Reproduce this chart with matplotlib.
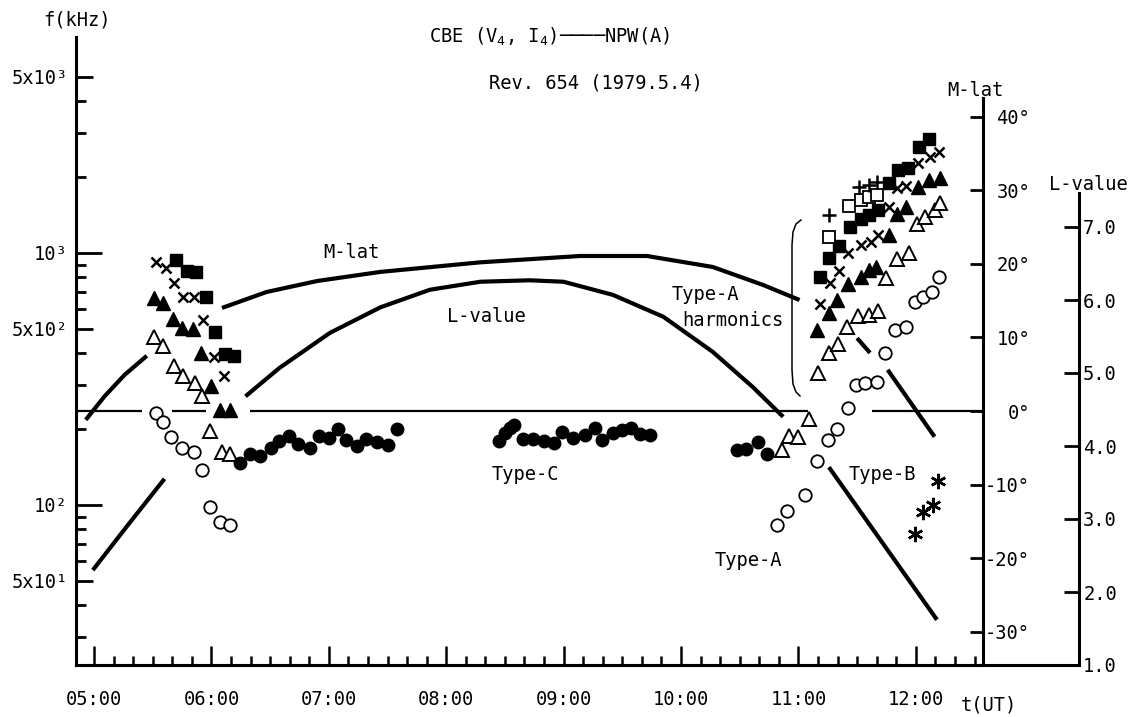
import numpy as np
import matplotlib
matplotlib.use('Agg')
import matplotlib.pyplot as plt
from matplotlib.ticker import FixedLocator, NullFormatter

plt.rcParams['font.family'] = ['DejaVu Sans Mono', 'DejaVu Sans']
plt.rcParams['mathtext.fontset'] = 'custom'
plt.rcParams['mathtext.rm'] = 'DejaVu Sans Mono'
plt.rcParams['mathtext.it'] = 'DejaVu Sans Mono'

nan = np.nan
FS = 13.5

# ---- data: time in hours UT, frequency in kHz ----
circ_open_t = [5.53, 5.59, 5.66, 5.75, 5.85, 5.92, 5.99, 6.07, 6.16,
               10.82, 10.90, 11.06, 11.16, 11.25, 11.33, 11.42, 11.49, 11.57, 11.67,
               11.74, 11.82, 11.92, 11.99, 12.06, 12.14, 12.20]
circ_open_f = [232, 214, 186, 168, 163, 138, 98, 86, 83,
               83, 95, 110, 149, 181, 200, 242, 299, 304, 309,
               402, 495, 507, 641, 671, 702, 805]

tri_open_t = [5.51, 5.59, 5.68, 5.76, 5.86, 5.92, 5.99, 6.09, 6.16,
              10.86, 10.92, 11.00, 11.09, 11.17, 11.26, 11.34, 11.41, 11.51, 11.60,
              11.68, 11.75, 11.84, 11.94, 12.01, 12.08, 12.16, 12.21]
tri_open_f = [463, 427, 356, 325, 306, 271, 196, 163, 160,
              165, 188, 186, 219, 333, 400, 436, 507, 562, 568,
              590, 794, 945, 1003, 1304, 1386, 1482, 1585]

tri_fill_t = [5.51, 5.59, 5.67, 5.75, 5.84, 5.91, 6.00, 6.07, 6.16,
              11.16, 11.26, 11.33, 11.42, 11.53, 11.60, 11.66, 11.77, 11.84, 11.92,
              12.02, 12.11, 12.21]
tri_fill_f = [661, 631, 545, 503, 498, 400, 297, 238, 238,
              495, 577, 651, 753, 801, 857, 883, 1179, 1428, 1518,
              1822, 1949, 1979]

cross_t = [5.53, 5.61, 5.68, 5.76, 5.85, 5.93, 6.02, 6.11,
           11.18, 11.27, 11.35, 11.42, 11.53, 11.62, 11.68, 11.77, 11.84, 11.92,
           12.02, 12.12, 12.20]
cross_f = [924, 869, 758, 671, 671, 542, 387, 325,
           628, 763, 851, 1003, 1076, 1109, 1179, 1518, 1806, 1845,
           2282, 2397, 2524]

sq_fill_t = [5.70, 5.79, 5.87, 5.95, 6.03, 6.12, 6.19,
             11.18, 11.26, 11.35, 11.44, 11.53, 11.60, 11.68, 11.77, 11.85, 11.93,
             12.03, 12.11]
sq_fill_f = [938, 851, 844, 671, 488, 397, 390,
             805, 952, 1066, 1272, 1361, 1415, 1482, 1892, 2135, 2168,
             2626, 2825]

sq_open_t = [11.26, 11.43, 11.53, 11.60, 11.67]
sq_open_f = [1161, 1537, 1623, 1664, 1699]

plus_t = [11.26, 11.52, 11.60, 11.67]
plus_f = [1415, 1822, 1864, 1919]

# Type-C (filled circles)
dot_t = [6.24, 6.33, 6.41, 6.51, 6.58, 6.66, 6.74, 6.84, 6.92, 7.00, 7.08, 7.15,
         7.24, 7.32, 7.41, 7.50, 7.58,
         8.45, 8.50, 8.54, 8.58, 8.65, 8.74, 8.83, 8.92, 8.99, 9.08, 9.18, 9.27,
         9.33, 9.42, 9.50, 9.57, 9.65, 9.74,
         10.48, 10.55, 10.66, 10.73]
dot_f = [147, 159, 156, 168, 180, 187, 175, 168, 187, 184, 200, 181,
         171, 182, 178, 173, 200,
         179, 193, 202, 208, 182, 182, 179, 177, 195, 184, 190, 202,
         181, 193, 198, 202, 191, 190,
         165, 167, 178, 159]

# Type-B (asterisks)
ast_t = [11.99, 12.06, 12.15, 12.19]
ast_f = [77, 94, 100, 125]

# M-lat curve (degrees), broken where it crosses the data
mlat_t = [4.93, 5.09, 5.26, 5.45, nan,
          6.09, 6.47, 6.90, 7.44, 8.29, 9.14, 9.71, 10.27, 10.70, 11.01, nan,
          11.50, 11.61, nan, 11.76, 12.16]
mlat_deg = [-1.2, 2.0, 4.9, 7.5, nan,
            14.0, 16.17, 17.66, 18.9, 20.2, 21.06, 21.06, 19.57, 17.12, 15.08, nan,
            9.9, 7.9, nan, 5.6, -3.5]

# L-value curve
lval_t = [4.99, 5.29, 5.60, nan,
          6.29, 6.58, 7.01, 7.44, 7.86, 8.29, 8.71, 9.00, 9.42, 9.85, 10.27, 10.61, 10.87, nan,
          11.26, 12.18]
lval = [2.30, 2.92, 3.55, nan,
        4.68, 5.07, 5.55, 5.90, 6.14, 6.25, 6.27, 6.25, 6.07, 5.77, 5.29, 4.81, 4.40, nan,
        3.71, 1.62]

# 0 deg M-lat reference line pieces (start, end) in hours
zero_start = [None, 5.664, 6.329, 11.627]
zero_end = [5.409, 5.954, 11.082, None]

time_labels = ['05:00', '06:00', '07:00', '08:00', '09:00', '10:00', '11:00', '12:00']
f_ticks = [50, 100, 500, 1000, 5000]
f_labels = ['5x10¹', '10²', '5x10²', '10³', '5x10³']
f_minor = [30, 40, 60, 70, 80, 90, 200, 300, 400, 600, 700, 800, 900, 2000, 3000, 4000]
mlat_ticks = [-30, -20, -10, 0, 10, 20, 30, 40]
l_ticks = [1, 2, 3, 4, 5, 6, 7]

# ---- layout (pixels) ----
W, H = 1133, 717
X0, PPH = 94.0, 117.4          # x pixel of 05:00 and pixels per hour
LEFT, BOT = 76, 665
def t_of(x):
    return 5 + (x - X0) / PPH

def box(x1, y1, x2, y2):
    return [x1 / W, 1 - y2 / H, (x2 - x1) / W, (y2 - y1) / H]

fig = plt.figure(figsize=(W / 100, H / 100), dpi=100)

ax = fig.add_axes(box(LEFT, 37, 983, BOT))
ax.set_yscale('log')
ax.set_xlim(t_of(LEFT), t_of(983))
ax.set_ylim(10 ** (3 - (BOT - 253) / 252), 10 ** (3 + (253 - 37) / 252))
for s in ['top', 'right']:
    ax.spines[s].set_visible(False)
for s in ['left', 'bottom']:
    ax.spines[s].set_linewidth(2.2)

ax.xaxis.set_major_locator(FixedLocator(range(5, 13)))
ax.set_xticklabels(time_labels, fontsize=FS)
ax.xaxis.set_minor_locator(FixedLocator([5 + k / 6 for k in range(46) if k % 6]))
ax.tick_params(axis='x', which='major', direction='in', length=14, width=1.8, pad=18)
ax.tick_params(axis='x', which='minor', direction='in', length=6.5, width=1.8)

ax.yaxis.set_major_locator(FixedLocator(f_ticks))
ax.yaxis.set_minor_locator(FixedLocator(f_minor))
ax.yaxis.set_minor_formatter(NullFormatter())
ax.set_yticklabels(f_labels, fontsize=FS)
ax.tick_params(axis='y', which='major', direction='in', length=19, width=2, pad=6)
ax.tick_params(axis='y', which='minor', direction='in', length=7, width=2)
for tk, v in zip(ax.yaxis.get_major_ticks(), f_ticks):
    if v in (50, 500, 5000):
        tk.tick1line.set_markersize(12)

# data marks
ms = 9
ax.plot(circ_open_t, circ_open_f, 'o', ms=ms, mfc='white', mec='black', mew=1.3, ls='none', zorder=5)
ax.plot(tri_open_t, tri_open_f, '^', ms=10, mfc='white', mec='black', mew=1.4, ls='none', zorder=5)
ax.plot(tri_fill_t, tri_fill_f, '^', ms=10, color='black', ls='none', zorder=5)
ax.plot(cross_t, cross_f, 'x', ms=7, color='black', mew=1.8, ls='none', zorder=5)
ax.plot(sq_fill_t, sq_fill_f, 's', ms=9, color='black', ls='none', zorder=5)
ax.plot(sq_open_t, sq_open_f, 's', ms=9, mfc='white', mec='black', mew=1.3, ls='none', zorder=5)
ax.plot(plus_t, plus_f, '+', ms=10, color='black', mew=1.8, ls='none', zorder=5)
ax.plot(dot_t, dot_f, 'o', ms=ms, color='black', ls='none', zorder=5)
ax.plot(ast_t, ast_f, marker=(6, 2, 0), ms=11, color='black', mew=1.8, ls='none', zorder=5)

# M-lat axis
axm = fig.add_axes(box(LEFT, 98, 983, BOT))
axm.patch.set_alpha(0)
axm.set_xlim(t_of(LEFT), t_of(983))
axm.set_ylim(-(BOT - 411) / 7.36, (411 - 98) / 7.36)
for s in ['top', 'left', 'bottom']:
    axm.spines[s].set_visible(False)
axm.spines['right'].set_linewidth(2.2)
axm.set_xticks([])
axm.yaxis.tick_right()
axm.set_yticks(mlat_ticks)
axm.set_yticklabels(['%d°' % v for v in mlat_ticks], fontsize=FS)
axm.tick_params(axis='y', direction='in', length=9.5, width=2, pad=34)
for lab in axm.get_yticklabels():
    lab.set_horizontalalignment('right')
axm.plot(mlat_t, mlat_deg, color='black', lw=3.0, solid_capstyle='butt')
zs = [t_of(LEFT) if v is None else v for v in zero_start]
ze = [t_of(983) if v is None else v for v in zero_end]
axm.hlines([0] * len(zs), zs, ze, color='black', lw=1.6)

# L-value axis
axl = fig.add_axes(box(LEFT, 193, 1079, BOT))
axl.patch.set_alpha(0)
axl.set_xlim(t_of(LEFT), t_of(1079))
axl.set_ylim(1.0, 7.0 + (227 - 193) / 73)
for s in ['top', 'left']:
    axl.spines[s].set_visible(False)
axl.spines['right'].set_linewidth(2.2)
axl.spines['bottom'].set_linewidth(2.2)
axl.set_xticks([])
axl.yaxis.tick_right()
axl.set_yticks(l_ticks)
axl.set_yticklabels(['%.1f' % v for v in l_ticks], fontsize=FS)
axl.tick_params(axis='y', direction='in', length=11, width=2, pad=3)
axl.plot(lval_t, lval, color='black', lw=3.0, solid_capstyle='butt')

# overlay for texts and the bracket
ov = fig.add_axes([0, 0, 1, 1])
ov.set_xlim(0, W)
ov.set_ylim(H, 0)
ov.axis('off')
ov.patch.set_alpha(0)

ov.text(77, 20, 'f(kHz)', ha='center', va='center', fontsize=FS)
ov.text(975, 90, 'M-lat', ha='center', va='center', fontsize=FS)
ov.text(1088, 185, 'L-value', ha='center', va='center', fontsize=FS)
ov.text(989, 705, 't(UT)', ha='center', va='center', fontsize=FS)
ov.text(550, 37, r'CBE (V$_4$, I$_4$)────NPW(A)', ha='center', va='center', fontsize=FS)
ov.text(596, 83, 'Rev. 654 (1979.5.4)', ha='center', va='center', fontsize=FS)
ov.text(351, 252, 'M-lat', ha='center', va='center', fontsize=FS)
ov.text(486, 317, 'L-value', ha='center', va='center', fontsize=FS)
ov.text(672, 295, 'Type-A', ha='left', va='center', fontsize=FS)
ov.text(682, 320, 'harmonics', ha='left', va='center', fontsize=FS)
ov.text(525, 475, 'Type-C', ha='center', va='center', fontsize=FS)
ov.text(782, 560, 'Type-A', ha='right', va='center', fontsize=FS)
ov.text(882, 475, 'Type-B', ha='center', va='center', fontsize=FS)

bx = [801, 796, 793, 792, 792, 793, 796, 800]
by = [220, 224, 232, 245, 370, 384, 392, 396]
ov.plot(bx, by, color='black', lw=1.1)

fig.savefig('out.png', dpi=100)
